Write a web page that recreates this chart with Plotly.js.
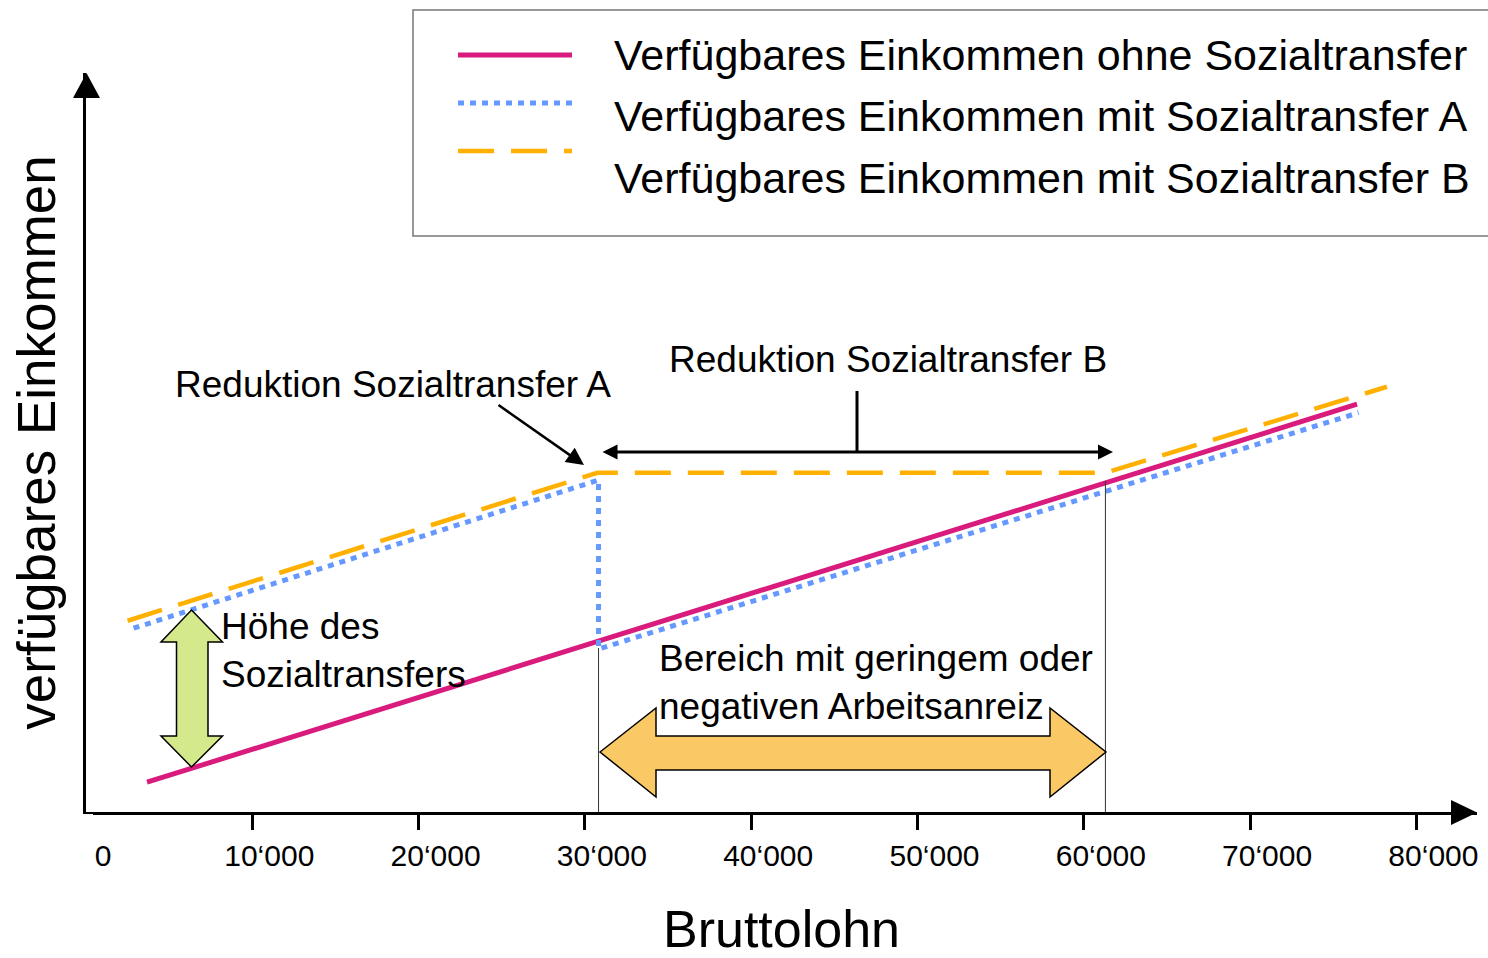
<!DOCTYPE html>
<html>
<head>
<meta charset="utf-8">
<script src="https://cdn.plot.ly/plotly-3.0.1.min.js"></script>
<style>html,body{margin:0;padding:0;background:#fff;}#chart{width:1488px;height:958px;}</style>
</head>
<body>
<div id="chart"></div>
<script>
// ---- data ----
const seriesNames = [
  'Verfügbares Einkommen ohne Sozialtransfer',
  'Verfügbares Einkommen mit Sozialtransfer A',
  'Verfügbares Einkommen mit Sozialtransfer B'
];
const ohneX = [3670, 76430];
const ohneY = [1790, 24520];
const transferAX = [2860, 30820, 30820, 76520];
const transferAY = [11050, 19960, 9800, 24010];
const transferBX = [2500, 30760, 61300, 78230];
const transferBY = [11500, 20400, 20400, 25570];
const tickValues = [0, 10000, 20000, 30000, 40000, 50000, 60000, 70000, 80000];
const tickLabels = ['0', '10‘000', '20‘000', '30‘000', '40‘000', '50‘000', '60‘000', '70‘000', '80‘000'];
const xTitle = 'Bruttolohn';
const yTitle = 'verfügbares Einkommen';
const noteA = 'Reduktion Sozialtransfer A';
const noteB = 'Reduktion Sozialtransfer B';
const noteHeight = 'Höhe des<br>Sozialtransfers';
const noteRange = 'Bereich mit geringem oder<br>negativen Arbeitsanreiz';

// ---- layout helpers (pixel -> paper) ----
const W = 1488, H = 958;
const ML = 86, MR = 11, MT = 73, MB = 146;
const PW = W - ML - MR, PH = H - MT - MB;
const px = v => (v - ML) / PW;
const py = v => (H - MB - v) / PH;
const FONT = 'Arial, "Liberation Sans", sans-serif';
const colors = ['#D81B7C', '#6699FF', '#FFB000'];
const dashes = ['solid', '6px,6px', '36px,17px'];
const widths = [5, 5, 4.5];

const traces = [
  {x: ohneX, y: ohneY, name: seriesNames[0], mode: 'lines', line: {color: colors[0], width: widths[0], dash: dashes[0]}, showlegend: false, hoverinfo: 'skip'},
  {x: transferAX, y: transferAY, name: seriesNames[1], mode: 'lines', line: {color: colors[1], width: widths[1], dash: dashes[1]}, showlegend: false, hoverinfo: 'skip'},
  {x: transferBX, y: transferBY, name: seriesNames[2], mode: 'lines', line: {color: colors[2], width: widths[2], dash: dashes[2]}, showlegend: false, hoverinfo: 'skip'}
];

function poly(pts) {
  return 'M' + pts.map(p => px(p[0]) + ',' + py(p[1])).join(' L') + ' Z';
}

const shapes = [];
// hide the tick mark at the origin (the reference has none there)
shapes.push({type: 'rect', xref: 'paper', yref: 'paper', layer: 'above', x0: px(80), x1: px(93), y0: py(814), y1: py(832), fillcolor: '#fff', line: {width: 0}});
// thin marker lines at the break points
shapes.push({type: 'line', xref: 'x', yref: 'paper', x0: transferAX[1], x1: transferAX[1], y0: 0, y1: py(648), line: {color: '#333', width: 1}});
shapes.push({type: 'line', xref: 'x', yref: 'paper', x0: transferBX[2], x1: transferBX[2], y0: 0, y1: py(481), line: {color: '#333', width: 1}});
// axis arrowheads
shapes.push({type: 'path', xref: 'paper', yref: 'paper', path: poly([[1451, 800], [1477, 812.5], [1451, 825]]), fillcolor: '#000', line: {width: 0}});
shapes.push({type: 'path', xref: 'paper', yref: 'paper', path: poly([[73, 98], [86.5, 73], [100, 98]]), fillcolor: '#000', line: {width: 0}});
// green block arrow
shapes.push({type: 'path', xref: 'paper', yref: 'paper', path: poly([
  [191.5, 610], [222.5, 642], [208, 642], [208, 736], [222.5, 736], [191.5, 767],
  [161, 736], [176.5, 736], [176.5, 642], [161, 642]]), fillcolor: '#D3E98B', line: {color: '#000', width: 1.5}});
// orange block arrow
shapes.push({type: 'path', xref: 'paper', yref: 'paper', path: poly([
  [600, 752], [656, 708], [656, 736], [1050, 736], [1050, 708], [1106, 752],
  [1050, 797], [1050, 770], [656, 770], [656, 797]]), fillcolor: '#FAC864', line: {color: '#000', width: 1.5}});
// vertical stem for label B
shapes.push({type: 'line', xref: 'paper', yref: 'paper', x0: px(857), x1: px(857), y0: py(391), y1: py(452), line: {color: '#000', width: 3}});
// legend box
shapes.push({type: 'rect', xref: 'paper', yref: 'paper', x0: px(413), x1: px(1500), y0: py(10), y1: py(236), line: {color: '#777', width: 1.5}, fillcolor: 'rgba(0,0,0,0)'});
// legend samples
const sampleY = [55, 103, 151];
for (let i = 0; i < 3; i++) {
  shapes.push({type: 'line', xref: 'paper', yref: 'paper', x0: px(458), x1: px(572), y0: py(sampleY[i]), y1: py(sampleY[i]), line: {color: colors[i], width: widths[i], dash: dashes[i]}});
}

const annotations = [];
const textY = [55, 116, 178];
for (let i = 0; i < 3; i++) {
  annotations.push({xref: 'paper', yref: 'paper', x: px(612), y: py(textY[i]), xanchor: 'left', yanchor: 'middle', text: seriesNames[i], showarrow: false, font: {family: FONT, size: 43, color: '#000'}});
}
annotations.push({xref: 'paper', yref: 'paper', x: px(393), y: py(384), xanchor: 'center', yanchor: 'middle', text: noteA, showarrow: false, font: {family: FONT, size: 37, color: '#000'}});
annotations.push({xref: 'paper', yref: 'paper', x: px(888), y: py(360), xanchor: 'center', yanchor: 'middle', text: noteB, showarrow: false, font: {family: FONT, size: 37, color: '#000'}});
annotations.push({xref: 'paper', yref: 'paper', x: px(219), y: py(650), xanchor: 'left', yanchor: 'middle', align: 'left', text: noteHeight, showarrow: false, font: {family: FONT, size: 37, color: '#000'}});
annotations.push({xref: 'paper', yref: 'paper', x: px(657), y: py(682), xanchor: 'left', yanchor: 'middle', align: 'left', text: noteRange, showarrow: false, font: {family: FONT, size: 37, color: '#000'}});
// arrow A (diagonal)
annotations.push({xref: 'paper', yref: 'paper', x: px(584), y: py(465), ax: -87, ay: -61, text: '', showarrow: true, arrowhead: 2, arrowsize: 1.4, arrowwidth: 2.5, arrowcolor: '#000', standoff: 0});
// arrow B (double headed)
annotations.push({xref: 'paper', yref: 'paper', x: px(1113), y: py(452), ax: -512, ay: 0, text: '', showarrow: true, arrowside: 'end+start', arrowhead: 2, startarrowhead: 2, arrowsize: 1, startarrowsize: 1, arrowwidth: 3, arrowcolor: '#000', standoff: 0, startstandoff: 0});

const layout = {
  width: W, height: H,
  margin: {l: ML, r: MR, t: MT, b: MB, pad: 0},
  paper_bgcolor: '#fff', plot_bgcolor: '#fff',
  showlegend: false,
  xaxis: {
    range: [0, PW / 16.63 * 1000], showgrid: false, zeroline: false,
    showline: true, linecolor: '#000', linewidth: 3,
    tickmode: 'array', tickvals: tickValues, ticktext: tickLabels,
    ticks: 'outside', ticklen: 15, tickwidth: 3, tickcolor: '#000',
    ticklabelshift: 17, ticklabelstandoff: 0,
    tickfont: {family: FONT, size: 30, color: '#000'},
    title: {text: xTitle, font: {family: FONT, size: 52, color: '#000'}, standoff: 43},
    automargin: false, fixedrange: true
  },
  yaxis: {
    range: [0, PH / 16.63 * 1000], showgrid: false, zeroline: false,
    showline: true, linecolor: '#000', linewidth: 3,
    showticklabels: false, ticks: '',
    title: {text: yTitle, font: {family: FONT, size: 53, color: '#000'}, standoff: 11},
    automargin: false, fixedrange: true
  },
  shapes: shapes,
  annotations: annotations
};

Plotly.newPlot('chart', traces, layout, {displayModeBar: false, staticPlot: true});
</script>
</body>
</html>
